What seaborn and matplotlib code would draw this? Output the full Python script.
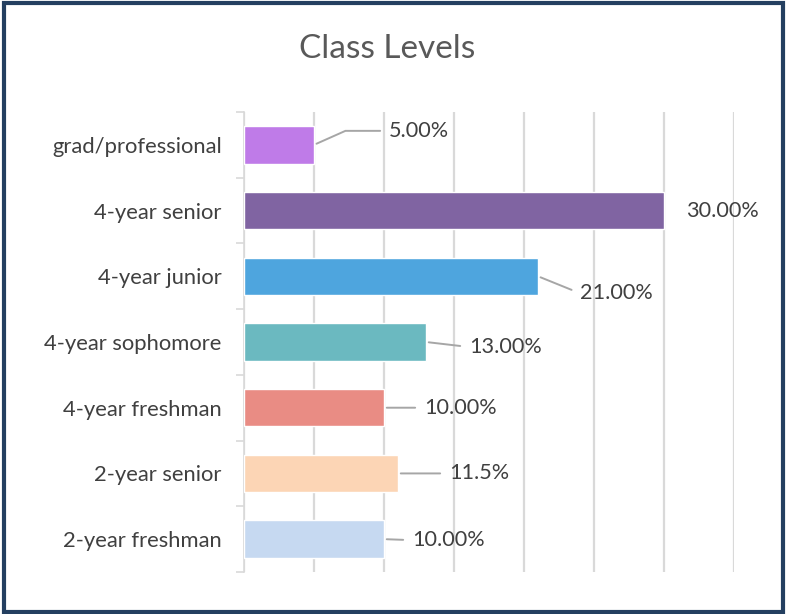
import matplotlib
matplotlib.use('Agg')
import matplotlib.pyplot as plt
import seaborn as sns
import numpy as np
from matplotlib.patches import Rectangle

sns.set_style('white')
plt.rcParams['font.family'] = ['Lato', 'DejaVu Sans']

categories = ['grad/professional', '4-year senior', '4-year junior', '4-year sophomore',
              '4-year freshman', '2-year senior', '2-year freshman']
values = [5.0, 30.0, 21.0, 13.0, 10.0, 11.0, 10.0]
labels = ['5.00%', '30.00%', '21.00%', '13.00%', '10.00%', '11.5%', '10.00%']
colors = ['#BF7BE8', '#8064A2', '#4EA5DE', '#6BB9C0', '#E98C84', '#FCD5B5', '#C6D9F1']

# label offsets from bar end (pixels) and whether a leader line is drawn
offsets = [(75, 14), (22, 0), (42, -17), (43, -5), (40, 0), (51, 0), (28, -1)]
leaders = [True, False, True, True, True, True, True]
bends = ['angle,angleA=0,angleB=24,rad=0', 'arc3', 'arc3', 'arc3', 'arc3', 'arc3', 'arc3']

fig = plt.figure(figsize=(7.87, 6.14), dpi=100)
ax = fig.add_axes([0.310, 0.0684, 0.6227, 0.7492])

sns.barplot(x=values, y=categories, hue=categories, palette=colors, orient='h',
            width=0.57, legend=False, saturation=1, edgecolor='white', linewidth=1,
            ax=ax, zorder=3)

ax.set_xlim(0, 35)
ax.set_ylim(6.5, -0.5)
ax.set_xticks(np.arange(0, 36, 5))
ax.xaxis.grid(True, color='#D9D9D9', linewidth=1.6, zorder=0)
ax.tick_params(axis='x', length=0, labelbottom=False)
ax.tick_params(axis='y', which='major', left=True, length=0, pad=16, labelsize=15.8,
               labelcolor='#404040')
ax.set_yticks(np.arange(-0.5, 7, 1), minor=True)
ax.tick_params(axis='y', which='minor', left=True, length=6, width=1.2, color='#D9D9D9')
for s in ['top', 'right', 'bottom']:
    ax.spines[s].set_visible(False)
ax.spines['left'].set_color('#D9D9D9')
ax.spines['left'].set_linewidth(1.2)
ax.set_xlabel('')
ax.set_ylabel('')

for i, (v, lab, off, ld, cs) in enumerate(zip(values, labels, offsets, leaders, bends)):
    arrow = None
    if ld:
        arrow = dict(arrowstyle='-', color='#A6A6A6', lw=1.4, shrinkA=4, shrinkB=2,
                     relpos=(0, 0.5), connectionstyle=cs)
    ax.annotate(lab, xy=(v, i), xytext=off, textcoords='offset pixels',
                ha='left', va='center', fontsize=15.6, color='#404040',
                arrowprops=arrow, zorder=4)

fig.suptitle('Class Levels', x=0.492, y=0.945, fontsize=24, color='#595959')

fig.patches.append(Rectangle((0.0045, 0.0035), 0.991, 0.992, transform=fig.transFigure,
                             fill=False, edgecolor='#243F60', linewidth=3))

fig.savefig('out.png', dpi=100)
